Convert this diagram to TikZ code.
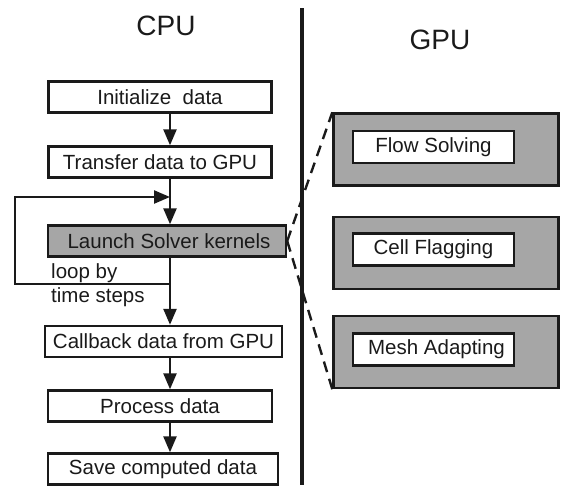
\documentclass[tikz,border=0pt]{standalone}
\usepackage{fontspec}
\setmainfont{Liberation Sans}
\usetikzlibrary{arrows.meta}
\definecolor{boxgray}{HTML}{A6A6A6}
\definecolor{ink}{HTML}{1A1A1A}
\begin{document}
\begin{tikzpicture}[x=1pt,y=-1pt,
  cpubox/.style={draw=ink,line width=2.4pt,fill=white,minimum height=31pt,inner sep=0pt,
    font=\fontsize{20.5}{22}\selectfont,text=ink},
  gpuouter/.style={draw=ink,line width=2.4pt,fill=boxgray,minimum width=225pt,minimum height=72pt,inner sep=0pt},
  gpuinner/.style={draw=ink,line width=2.4pt,fill=white,minimum width=161pt,minimum height=32pt,inner sep=0pt,
    font=\fontsize{20.5}{22}\selectfont,text=ink},
  flow/.style={draw=ink,line width=2.4pt,-{Triangle[length=16pt,width=13pt]}},
  title/.style={font=\fontsize{28}{32}\selectfont,text=ink}]
\useasboundingbox (0,0) rectangle (561,485);
% titles
\node[title] (cpu) at (166,26) {CPU};
\node[title] (gpu) at (440,40) {GPU};
% divider
\coordinate (dtop) at (302,8);
\coordinate (dbot) at (302,485);
\draw[ink,line width=4pt] (dtop) -- (dbot);
% CPU boxes
\node[cpubox,minimum width=223pt] (init) at (160,97) {Initialize\ \ data};
\node[cpubox,minimum width=223pt] (trans) at (160,162) {Transfer data to GPU};
\node[cpubox,minimum width=238pt,fill=boxgray] (launch) at (167,241) {\hspace*{4pt}Launch Solver kernels};
\node[cpubox,minimum width=237pt] (call) at (163.5,341.5) {Callback data from GPU};
\node[cpubox,minimum width=224pt] (proc) at (160,406) {Process data};
\node[cpubox,minimum width=230pt] (save) at (163,469) {Save computed data};
% arrows
\draw[flow] (init.south -| 170,0) -- (trans.north -| 170,0);
\draw[flow] (trans.south -| 170,0) -- (launch.north -| 170,0);
\draw[flow] (launch.south -| 170,0) -- (call.north -| 170,0);
\draw[flow] (call.south -| 170,0) -- (proc.north -| 170,0);
\draw[flow] (proc.south -| 170,0) -- (save.north -| 170,0);
% loop
\coordinate (lj) at (170,284);
\coordinate (lt) at (170,197);
\draw[flow] (lj) -- (15,284) -- (15,197) -- (lt);
\node[anchor=west,align=left,inner sep=0pt,font=\fontsize{20.5}{24}\selectfont,text=ink] (looplbl) at (51,285) {loop by\\time steps};
% GPU boxes
\node[gpuouter] (fo) at (446,149.5) {};
\node[gpuouter] (co) at (446,253) {};
\node[gpuouter] (mo) at (446,352) {};
\node[gpuinner] (fi) at (433.5,147) {Flow Solving};
\node[gpuinner] (ci) at (433.5,249.5) {Cell Flagging};
\node[gpuinner] (mi) at (433.5,349.5) {\hspace*{6pt}Mesh Adapting};
% dashed
\draw[ink,line width=2.4pt,dash pattern=on 11pt off 7pt] (launch.east) -- (fo.north west);
\draw[ink,line width=2.4pt,dash pattern=on 11pt off 7pt] (launch.east) -- (mo.south west);
\end{tikzpicture}
\end{document}
